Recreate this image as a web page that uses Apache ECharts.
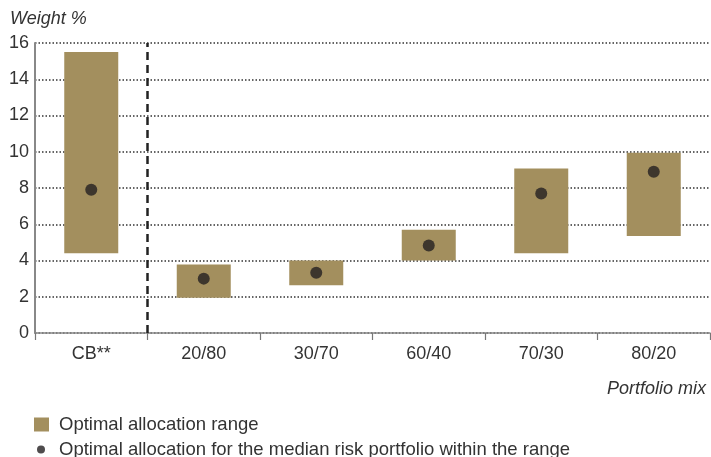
<!DOCTYPE html>
<html>
<head>
<meta charset="utf-8">
<script src="https://cdn.jsdelivr.net/npm/echarts@6/dist/echarts.min.js"></script>
<style>
html,body{margin:0;padding:0;background:#fff;}
#chart{width:711px;height:457px;}
</style>
</head>
<body>
<div id="chart"></div>
<script>
const categories = ['CB**', '20/80', '30/70', '60/40', '70/30', '80/20'];
const rangeLow = [4.4, 1.95, 2.63, 4.0, 4.4, 5.35];
const rangeHigh = [15.5, 3.78, 4.0, 5.7, 9.08, 9.95];
const medianValues = [7.9, 3.0, 3.33, 4.83, 7.7, 8.9];
const yMin = 0, yMax = 16, yStep = 2;
const dividerAfterIndex = 1; // dashed line between CB** and the portfolio mixes

const rangeSpan = rangeHigh.map((h, i) => +(h - rangeLow[i]).toFixed(3));
const FONT = 'Liberation Sans';
const TXT = '#333333';
const GOLD = '#a38f5e';
const DOT = '#231f20';
const RANGE_NAME = 'Optimal allocation range';
const DOT_NAME = 'Optimal allocation for the median risk portfolio within the range';

const chart = echarts.init(document.getElementById('chart'), null, {renderer: 'canvas'});
chart.setOption({
  animation: false,
  backgroundColor: '#ffffff',
  textStyle: {fontFamily: FONT, color: TXT},
  title: [
    {text: 'Weight %', left: 5, top: 5,
     textStyle: {fontFamily: FONT, fontSize: 18, fontStyle: 'italic', fontWeight: 'normal', color: TXT}},
    {text: 'Portfolio mix', right: 0, top: 375,
     textStyle: {fontFamily: FONT, fontSize: 18, fontStyle: 'italic', fontWeight: 'normal', color: TXT}}
  ],
  legend: [
    {data: [RANGE_NAME], left: 29, top: 410, orient: 'vertical', itemWidth: 15, itemHeight: 14,
     icon: 'rect', textStyle: {fontFamily: FONT, fontSize: 18.5, color: TXT, padding: [0, 0, 0, 5]}},
    {data: [DOT_NAME], left: 32, top: 435, orient: 'vertical', itemWidth: 8, itemHeight: 8,
     icon: 'circle', textStyle: {fontFamily: FONT, fontSize: 18.5, color: TXT, padding: [0, 0, 0, 9]}}
  ],
  grid: {left: 35, right: 1, top: 43, bottom: 124, containLabel: false},
  xAxis: [
    {type: 'category', data: categories,
     axisLine: {lineStyle: {color: '#888888', width: 1.5}},
     axisTick: {show: true, length: 7, lineStyle: {color: '#777777', width: 1.2}},
     axisLabel: {fontFamily: FONT, fontSize: 18, color: TXT, margin: 12},
     splitLine: {show: false}},
    {type: 'value', min: 0, max: categories.length, show: false}
  ],
  yAxis: {
    type: 'value', min: yMin, max: yMax, interval: yStep,
    axisLine: {show: true, lineStyle: {color: '#888888', width: 2}},
    axisTick: {show: false},
    axisLabel: {fontFamily: FONT, fontSize: 18, color: TXT, margin: 6},
    splitLine: {show: true, lineStyle: {color: '#333333', width: 1.5, type: [1.5, 2]}}
  },
  series: [
    {name: 'base', type: 'bar', stack: 'r', data: rangeLow, barWidth: '48%',
     itemStyle: {color: 'rgba(0,0,0,0)'}, silent: true},
    {name: RANGE_NAME, type: 'bar', stack: 'r', data: rangeSpan, barWidth: '48%',
     itemStyle: {color: GOLD}},
    {name: DOT_NAME, type: 'scatter', data: medianValues, symbol: 'circle', symbolSize: 12,
     itemStyle: {color: DOT}, z: 5},
    {name: 'divider', type: 'line', xAxisIndex: 1, data: [], silent: true,
     markLine: {silent: true, symbol: ['none', 'none'], label: {show: false},
       lineStyle: {color: '#222222', width: 2.5, type: [8, 5]},
       data: [{xAxis: dividerAfterIndex}]}}
  ]
});
</script>
</body>
</html>
